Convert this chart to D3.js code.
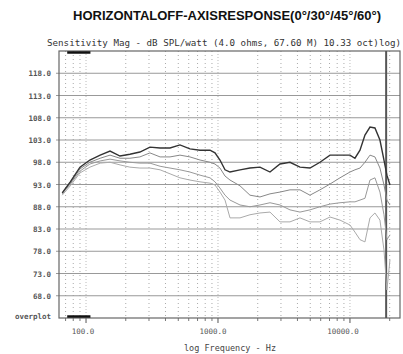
<!DOCTYPE html>
<html><head><meta charset="utf-8">
<script src="https://cdn.jsdelivr.net/npm/d3@7"></script>
<style>body{margin:0;background:#fff}svg{display:block}</style>
</head><body>
<svg id="c" width="403" height="354"></svg>
<script>
const titleText = "HORIZONTALOFF-AXISRESPONSE(0°/30°/45°/60°)";
const subtitleText = "Sensitivity Mag - dB SPL/watt (4.0 ohms, 67.60 M) 10.33 oct)log)";
const xTitle = "log Frequency - Hz";
const freqs = [66,76,90,107,128,152,181,215,256,305,364,433,515,613,731,870,949,1035,1130,1233,1468,1747,2080,2477,2949,3511,4180,4977,5926,7055,8400,10000,10910,11910,12990,14180,15460,16870,18100,19050,20100];
const deg0  = [91.1,93.6,96.9,98.5,99.6,100.5,99.4,99.8,100.3,101.4,101.2,101.2,101.9,101.0,100.7,100.7,100.1,98.5,96.3,95.8,96.3,96.7,96.9,95.8,97.6,98.0,96.9,96.7,98.0,99.6,99.6,99.6,98.9,100.7,104.1,105.9,105.7,103.0,98.5,95.1,92.9];
const deg30 = [91.1,93.3,96.5,98.0,98.9,99.6,98.9,98.9,99.2,100.1,99.2,99.2,99.6,99.2,98.5,98.0,97.6,96.7,94.9,94.0,92.7,90.6,90.2,90.9,91.3,91.8,91.8,90.6,91.8,93.1,94.5,95.8,96.3,96.7,98.0,99.6,99.2,96.7,92.9,89.5,88.4];
const deg45 = [90.9,93.1,96.0,97.6,98.3,98.7,98.3,98.0,97.8,97.8,97.1,96.7,96.3,95.8,95.1,94.5,93.6,92.2,90.6,89.5,88.4,88.0,88.4,88.9,88.4,87.3,86.8,87.3,88.0,88.6,88.9,89.1,89.1,89.5,89.9,94.0,94.5,91.3,86.2,80.6,81.7];
const deg60 = [90.6,92.7,95.6,96.9,97.8,98.0,97.4,96.9,96.7,96.7,96.3,95.4,94.5,94.0,93.6,93.3,92.9,91.3,89.5,85.5,85.5,86.2,86.6,86.8,84.6,84.6,85.5,84.6,84.6,85.7,85.0,83.9,82.3,80.6,80.1,85.5,86.6,85.0,78.3,69.3,76.1];
const yTicks = [118,113,108,103,98,93,88,83,78,73,68];
const yBottomLabel = "overplot";
const xMajor = [100,1000,10000];
const xLabels = ["100.0","1000.0","10000.0"];
const markerFreq = 18800;

const svg = d3.select("#c");
const L=59,R=400,T=51,B=318;
const x = d3.scaleLog().domain([62.4,23940]).range([L,R]);
const y = d3.scaleLinear().domain([63,123]).range([B,T]);

svg.append("text").attr("x",227).attr("y",20).attr("text-anchor","middle")
  .attr("font-family","Liberation Sans, Arial, sans-serif").attr("font-weight","bold")
  .attr("font-size",12.5).attr("fill","#111")
  .attr("textLength",308).attr("lengthAdjust","spacingAndGlyphs").text(titleText);
svg.append("text").attr("x",47).attr("y",46)
  .attr("font-family","DejaVu Sans Mono, monospace").attr("font-size",8).attr("fill","#333")
  .attr("textLength",354).attr("lengthAdjust","spacingAndGlyphs").text(subtitleText);

// minor vertical dotted grid
const minor=[];
[10,100,1000,10000].forEach(d=>{for(let k=2;k<=9;k++){const f=d*k; if(f>62.4&&f<23940) minor.push(f);}});
svg.append("g").selectAll("line").data(minor).join("line")
  .attr("x1",d=>x(d)).attr("x2",d=>x(d)).attr("y1",T).attr("y2",B)
  .attr("stroke","#aaa").attr("stroke-width",1).attr("stroke-dasharray","1,3");
svg.append("g").selectAll("line").data(xMajor).join("line")
  .attr("x1",d=>x(d)).attr("x2",d=>x(d)).attr("y1",T).attr("y2",B)
  .attr("stroke","#bbb").attr("stroke-width",1).attr("stroke-dasharray","1,2");
// horizontal grid
svg.append("g").selectAll("line").data(yTicks).join("line")
  .attr("x1",L-3).attr("x2",R).attr("y1",d=>y(d)).attr("y2",d=>y(d))
  .attr("stroke","#999").attr("stroke-width",1);
// y labels
svg.append("g").selectAll("text").data(yTicks).join("text")
  .attr("x",51).attr("y",d=>y(d)+3).attr("text-anchor","end")
  .attr("font-family","DejaVu Sans Mono, monospace").attr("font-size",7.5).attr("font-weight","bold").attr("fill","#555")
  .text(d=>d.toFixed(1));
svg.append("text").attr("x",51).attr("y",y(63)+1).attr("text-anchor","end")
  .attr("font-family","DejaVu Sans Mono, monospace").attr("font-size",7.5).attr("font-weight","bold").attr("fill","#555")
  .text(yBottomLabel);
// x ticks
svg.append("g").selectAll("line").data(minor).join("line")
  .attr("x1",d=>x(d)).attr("x2",d=>x(d)).attr("y1",B).attr("y2",B+3).attr("stroke","#777");
svg.append("g").selectAll("line").data(xMajor).join("line")
  .attr("x1",d=>x(d)).attr("x2",d=>x(d)).attr("y1",B).attr("y2",B+5).attr("stroke","#555");
svg.append("g").selectAll("text").data(xMajor).join("text")
  .attr("x",(d,i)=>x(d)-3-i*2).attr("y",334).attr("text-anchor","middle")
  .attr("font-family","DejaVu Sans Mono, monospace").attr("font-size",7.5).attr("fill","#555")
  .text((d,i)=>xLabels[i]);
svg.append("text").attr("x",230).attr("y",351).attr("text-anchor","middle")
  .attr("font-family","DejaVu Sans Mono, monospace").attr("font-size",8).attr("fill","#444")
  .attr("textLength",92).attr("lengthAdjust","spacingAndGlyphs").text(xTitle);

// frame
svg.append("rect").attr("x",L).attr("y",T).attr("width",R-L).attr("height",B-T)
  .attr("fill","none").attr("stroke","#666").attr("stroke-width",1.2);
svg.append("line").attr("x1",x(markerFreq)).attr("x2",x(markerFreq)).attr("y1",T).attr("y2",B)
  .attr("stroke","#555").attr("stroke-width",2);
// black bars
[T+1.5,B-1.5].forEach(yy=>svg.append("line").attr("x1",x(72)).attr("x2",x(108)).attr("y1",yy).attr("y2",yy)
  .attr("stroke","#111").attr("stroke-width",2.5));

// curves
const line = d3.line().x((d,i)=>x(freqs[i])).y(d=>y(d));
const series = [
  {v:deg60, c:"#aaa", w:1},
  {v:deg45, c:"#999", w:1},
  {v:deg30, c:"#888", w:1},
  {v:deg0,  c:"#333", w:1.4}
];
series.forEach(s=>svg.append("path").datum(s.v).attr("d",line)
  .attr("fill","none").attr("stroke",s.c).attr("stroke-width",s.w));
</script>
</body></html>
